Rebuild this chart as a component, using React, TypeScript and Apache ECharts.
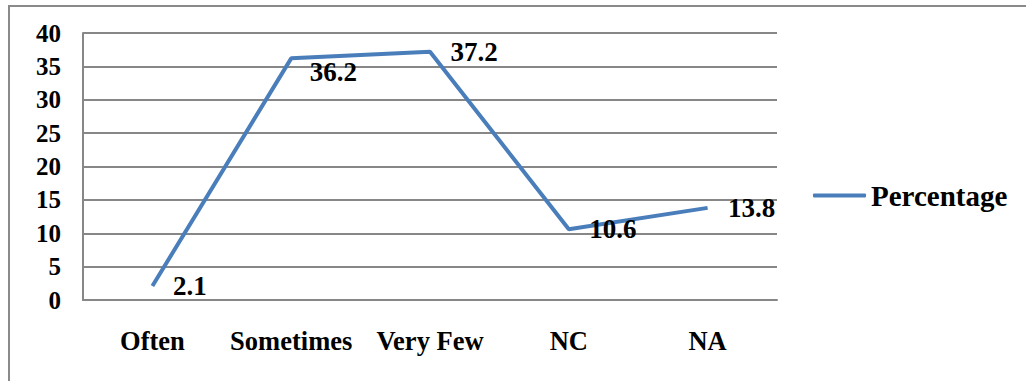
import React, { useEffect, useRef } from "react";
import * as echarts from "echarts";

const categories = ["Often", "Sometimes", "Very Few", "NC", "NA"];
const percentage = [2.1, 36.2, 37.2, 10.6, 13.8];
const seriesName = "Percentage";
const yTicks = { min: 0, max: 40, interval: 5 };

const FONT = "'Liberation Serif', 'Times New Roman', serif";
const GRID_COLOR = "#878787";
const LINE_COLOR = "#4a7ebb";

export default function App() {
  const ref = useRef<HTMLDivElement>(null);
  useEffect(() => {
    if (!ref.current) return;
    const chart = echarts.init(ref.current, undefined, { renderer: "svg" });
    const labelOffsets: Record<number, number[]> = { 1: [-2, 14] };
    chart.setOption({
      animation: false,
      backgroundColor: "#ffffff",
      graphic: [
        {
          type: "rect",
          shape: { x: 9, y: 6, width: 1100, height: 500 },
          style: { fill: "none", stroke: "#8a8a8a", lineWidth: 2 },
          silent: true,
          z: 0,
        },
      ],
      grid: { left: 83, right: 249, top: 33, bottom: 81 },
      legend: {
        show: true,
        left: 808,
        top: 176,
        itemWidth: 53,
        itemHeight: 4,
        icon: "roundRect",
        textStyle: { fontFamily: FONT, fontWeight: "bold", fontSize: 29, color: "#000" },
        data: [{ name: seriesName, itemStyle: { color: LINE_COLOR } }],
      },
      xAxis: {
        type: "category",
        data: categories,
        boundaryGap: true,
        axisLine: { show: true, lineStyle: { color: GRID_COLOR, width: 2 } },
        axisTick: { show: false },
        axisLabel: {
          fontFamily: FONT,
          fontWeight: "bold",
          fontSize: 26.5,
          color: "#000",
          margin: 27,
          interval: 0,
        },
      },
      yAxis: {
        type: "value",
        min: yTicks.min,
        max: yTicks.max,
        interval: yTicks.interval,
        axisLine: { show: true, lineStyle: { color: GRID_COLOR, width: 2 } },
        axisTick: { show: false },
        splitLine: { show: true, lineStyle: { color: GRID_COLOR, width: 2 } },
        axisLabel: {
          fontFamily: FONT,
          fontWeight: "bold",
          fontSize: 25,
          color: "#000",
          margin: 22,
        },
      },
      series: [
        {
          name: seriesName,
          type: "line",
          data: percentage.map((v, i) => ({
            value: v,
            label: labelOffsets[i] ? { offset: labelOffsets[i] } : undefined,
          })),
          showSymbol: true,
          symbol: "circle",
          symbolSize: 1,
          itemStyle: { color: "rgba(0,0,0,0)" },
          lineStyle: { color: LINE_COLOR, width: 4 },
          label: {
            show: true,
            position: "right",
            distance: 20,
            fontFamily: FONT,
            fontWeight: "bold",
            fontSize: 27,
            color: "#000",
          },
        },
      ],
    });
    return () => chart.dispose();
  }, []);
  return (
    <div
      ref={ref}
      style={{ position: "absolute", left: 0, top: 0, width: 1026, height: 381 }}
    />
  );
}
